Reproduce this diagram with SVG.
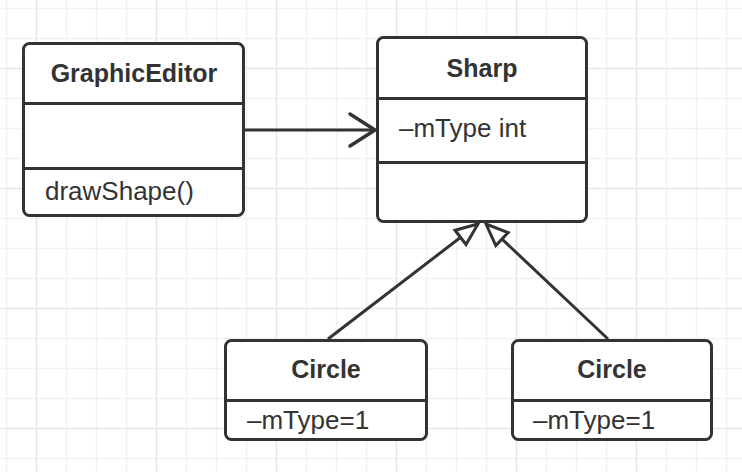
<svg xmlns="http://www.w3.org/2000/svg" width="742" height="472" viewBox="0 0 742 472">
<style>
.minor{stroke:#f1f1f1;stroke-width:1.5;fill:none}
.major{stroke:#e6e6e6;stroke-width:1.5;fill:none}
.box{fill:#fff;stroke:#333;stroke-width:3}
.div{stroke:#333;stroke-width:3;fill:none}
.title{font-family:"Liberation Sans",Arial,sans-serif;font-weight:bold;font-size:25px;fill:#333;text-anchor:middle}
.txt{font-family:"Liberation Sans",Arial,sans-serif;font-size:26px;fill:#333}
.edge{stroke:#333;stroke-width:3;fill:none}
</style>
<defs>
<marker id="open" markerUnits="userSpaceOnUse" markerWidth="40" markerHeight="40" refX="28" refY="20" orient="auto" viewBox="0 0 40 40">
<path d="M3 4 L28 20 L3 36" fill="none" stroke="#333" stroke-width="3.5" stroke-linecap="round" stroke-linejoin="round"/>
</marker>
<marker id="tri" markerUnits="userSpaceOnUse" markerWidth="40" markerHeight="40" refX="30" refY="20" orient="auto" viewBox="0 0 40 40">
<path d="M8 11 L30 20 L8 29 Z" fill="#fff" stroke="#333" stroke-width="3" stroke-linejoin="miter"/>
</marker>
</defs>
<rect width="742" height="472" fill="#fff"/>
<g id="grid">
<path class="minor" d="M6.5 0V472M66.5 0V472M96.5 0V472M126.5 0V472M186.5 0V472M216.5 0V472M246.5 0V472M306.5 0V472M336.5 0V472M366.5 0V472M426.5 0V472M456.5 0V472M486.5 0V472M546.5 0V472M576.5 0V472M606.5 0V472M666.5 0V472M696.5 0V472M726.5 0V472M0 8.5H742M0 38.5H742M0 98.5H742M0 128.5H742M0 158.5H742M0 218.5H742M0 248.5H742M0 278.5H742M0 338.5H742M0 368.5H742M0 398.5H742M0 458.5H742"/>
<path class="major" d="M36.5 0V472M156.5 0V472M276.5 0V472M396.5 0V472M516.5 0V472M636.5 0V472M0 68.5H742M0 188.5H742M0 308.5H742M0 428.5H742"/>
</g>
<g id="connectors">
<line class="edge" x1="245" y1="130" x2="375" y2="130" marker-end="url(#open)"/>
<line class="edge" x1="328" y1="339" x2="478" y2="224" marker-end="url(#tri)"/>
<line class="edge" x1="608" y1="339" x2="486" y2="224" marker-end="url(#tri)"/>
</g>
<g id="graphicEditor">
<rect class="box" x="23.5" y="43.5" width="220" height="172" rx="6"/>
<path class="div" d="M23.5 103.5H243.5M23.5 168.5H243.5"/>
<text class="title" x="134" y="82">GraphicEditor</text>
<text class="txt" x="45" y="200">drawShape()</text>
</g>
<g id="sharp">
<rect class="box" x="377.5" y="37.5" width="209" height="184" rx="6"/>
<path class="div" d="M377.5 98.5H586.5M377.5 162.5H586.5"/>
<text class="title" x="482" y="77">Sharp</text>
<text class="txt" x="399" y="137">–mType int</text>
</g>
<g id="circle1">
<rect class="box" x="225.5" y="340.5" width="201" height="99" rx="6"/>
<path class="div" d="M225.5 400.5H426.5"/>
<text class="title" x="326" y="378">Circle</text>
<text class="txt" x="247" y="429">–mType=1</text>
</g>
<g id="circle2">
<rect class="box" x="512.5" y="340.5" width="199" height="99" rx="6"/>
<path class="div" d="M512.5 400.5H711.5"/>
<text class="title" x="612" y="378">Circle</text>
<text class="txt" x="533" y="429">–mType=1</text>
</g>
</svg>
